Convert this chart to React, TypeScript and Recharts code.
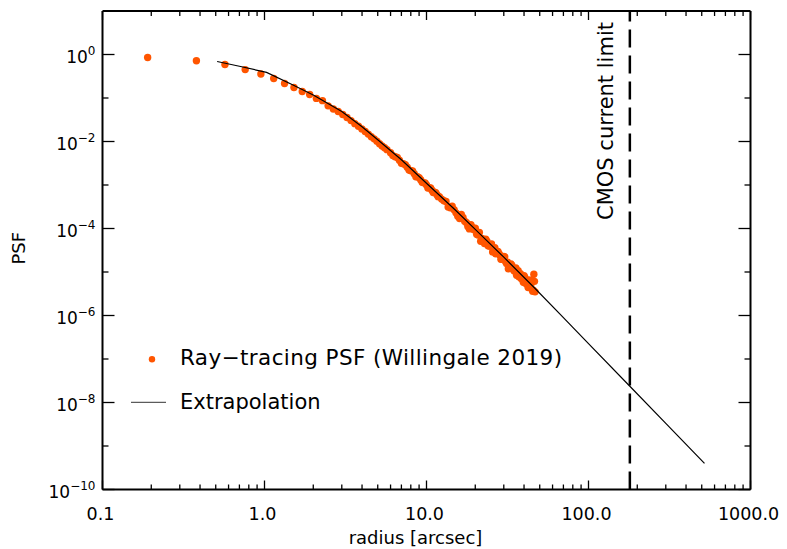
import React from "react";
import { ScatterChart, Scatter, XAxis, YAxis, ReferenceLine, Legend } from "recharts";

// ray-tracing PSF samples, radius in arcsec
const rayRadius = [
  0.19, 0.38, 0.57, 0.76, 0.95, 1.14, 1.33, 1.52, 1.71, 1.9, 2.09, 2.28, 2.47, 2.66, 2.85,
  3.04, 3.23, 3.42, 3.61, 3.8, 3.99, 4.18, 4.37, 4.56, 4.75, 4.94, 5.13, 5.32, 5.51, 5.7,
  6.0, 6.4, 6.8, 7.2, 7.6, 8.0, 8.4, 8.8, 9.2, 9.6, 10.0, 10.4, 10.8, 11.2, 11.6, 12.0,
  12.8, 13.6, 14.4, 15.2, 16.0, 16.8, 17.6, 18.4, 19.2, 20.0, 20.8, 21.6, 22.4, 23.2, 24.0,
  24.8, 25.6, 26.4, 27.2, 28.0, 28.8, 29.6, 30.4, 31.2, 32.0, 32.8, 33.6, 34.4, 35.2, 36.0,
  36.8, 37.6, 38.4, 39.2, 40.0, 40.8, 41.6, 42.4, 43.2, 44.0, 44.8, 45.6, 46.0, 46.4, 46.8,
];
const rayPsf = [
  0.85, 0.72, 0.59, 0.45, 0.355, 0.28, 0.215, 0.174, 0.141, 0.12, 0.098, 0.087, 0.066, 0.056, 0.049,
  0.0417, 0.0355, 0.0302, 0.0257, 0.0224, 0.0195, 0.017, 0.0148, 0.0129, 0.0115, 0.0102, 0.0089, 0.0079, 0.0072, 0.0065,
  0.0055, 0.00447, 0.00372, 0.00309, 0.00257, 0.00214, 0.00182, 0.00155, 0.00132, 0.00112, 0.001, 8.7e-4, 7.6e-4, 6.8e-4, 6.0e-4, 5.4e-4,
  4.35e-4, 3.14e-4, 3.24e-4, 2.29e-4, 1.69e-4, 1.79e-4, 1.38e-4, 9.8e-5, 1.06e-4, 1.02e-4, 7.05e-5, 5.1e-5, 5.6e-5, 5.7e-5, 4.0e-5,
  3.97e-5, 2.88e-5, 3.64e-5, 2.72e-5, 2.68e-5, 1.97e-5, 2.14e-5, 2.23e-5, 1.57e-5, 1.19e-5, 1.4e-5, 1.44e-5, 1.12e-5, 1.13e-5, 8.4e-6,
  1.07e-5, 8.2e-6, 7.1e-6, 7.7e-6, 8.2e-6, 5.5e-6, 5.8e-6, 4.4e-6, 5.8e-6, 4.8e-6, 6.5e-6, 3.8e-6, 8.9e-6, 6.1e-6, 3.5e-6,
];
// the in-between samples of the dense part
const rayRadiusFill = [
  6.2, 6.6, 7.0, 7.4, 7.8, 8.2, 8.6, 9.0, 9.4, 9.8, 10.2, 10.6, 11.0, 11.4, 11.8, 12.4,
  13.2, 14.0, 14.8, 15.6, 16.4, 17.2, 18.0, 18.8, 19.6, 20.4, 21.2, 22.0, 22.8, 23.6, 24.4,
  25.2, 26.0, 26.8, 27.6, 28.4, 29.2, 30.0, 30.8, 31.6, 32.4, 33.2, 34.0, 34.8, 35.6, 36.4,
  37.2, 38.0, 38.8, 39.6, 40.4, 41.2, 42.0, 42.8, 43.6, 44.4, 45.2,
];
const rayPsfFill = [
  4.74e-3, 4.28e-3, 3.16e-3, 2.92e-3, 2.22e-3, 2.09e-3, 1.55e-3, 1.48e-3, 1.16e-3, 1.12e-3, 8.5e-4, 8.6e-4, 6.7e-4, 6.65e-4, 5.4e-4, 4.74e-4,
  4.19e-4, 2.98e-4, 2.69e-4, 1.9e-4, 2.09e-4, 1.47e-4, 1.11e-4, 1.22e-4, 9.4e-5, 7.4e-5, 8.1e-5, 5.9e-5, 4.5e-5, 5.1e-5, 3.94e-5,
  4.4e-5, 3.27e-5, 2.61e-5, 2.96e-5, 2.43e-5, 1.96e-5, 2.29e-5, 1.73e-5, 1.68e-5, 1.28e-5, 1.53e-5, 1.22e-5, 1.05e-5, 1.24e-5, 9.7e-6,
  7.8e-6, 9.1e-6, 7.3e-6, 5.8e-6, 7.6e-6, 6.0e-6, 5.1e-6, 6.6e-6, 5.1e-6, 6.4e-6, 3.6e-6,
];

// extrapolation curve
const extrapRadius = [0.51, 0.7, 1.03, 1.5, 2, 3, 4, 5, 7, 10, 15, 20, 30, 46, 70, 100, 180, 300, 520];
const extrapPsf = [
  0.69, 0.537, 0.389, 0.1995, 0.1175, 0.049, 0.0219, 0.01096, 0.0038, 0.0011, 2.69e-4, 9.55e-5,
  2.19e-5, 4.47e-6, 8.9e-7, 2.26e-7, 2.36e-8, 3.3e-9, 3.98e-10,
];

const xMajorTicks = [0.1, 1, 10, 100, 1000];
const xMinorTicks = [
  0.2, 0.3, 0.4, 0.5, 0.6, 0.7, 0.8, 0.9, 2, 3, 4, 5, 6, 7, 8, 9,
  20, 30, 40, 50, 60, 70, 80, 90, 200, 300, 400, 500, 600, 700, 800, 900,
];
const yTicks = [1e-10, 1e-9, 1e-8, 1e-7, 1e-6, 1e-5, 1e-4, 1e-3, 1e-2, 1e-1, 1];
const cmosLimit = 180;

const ORANGE = "#ff5500";
const FONT = "DejaVu Sans";

const rayData = [
  ...rayRadius.map((r, i) => ({ r, psf: rayPsf[i] })),
  ...rayRadiusFill.map((r, i) => ({ r, psf: rayPsfFill[i] })),
];
const extrapData = extrapRadius.map((r, i) => ({ r, psf: extrapPsf[i] }));
const xTicks = [...xMajorTicks, ...xMinorTicks].sort((a, b) => a - b);

const isXMajor = (v: number) => xMajorTicks.some((m) => Math.abs(m - v) < 1e-9);
const expOf = (v: number) => Math.round(Math.log10(v));

const BottomTick = (props: any) => {
  const { x, y, payload } = props;
  const major = isXMajor(payload.value);
  return (
    <g>
      <line x1={x} x2={x} y1={y} y2={y - (major ? 9 : 5)} stroke="#000" strokeWidth={1.3} />
      {major && (
        <text x={x - 2} y={y + 30.5} textAnchor="middle" fontSize={17.5} fontFamily={FONT} fill="#000">
          {payload.value.toFixed(1)}
        </text>
      )}
    </g>
  );
};

const TopTick = (props: any) => {
  const { x, y, payload } = props;
  const major = isXMajor(payload.value);
  return <line x1={x} x2={x} y1={y} y2={y + (major ? 9 : 5)} stroke="#000" strokeWidth={1.3} />;
};

const LeftTick = (props: any) => {
  const { x, y, payload } = props;
  const e = expOf(payload.value);
  const major = e % 2 === 0;
  return (
    <g>
      <line x1={x} x2={x + (major ? 12 : 6)} y1={y} y2={y} stroke="#000" strokeWidth={1.3} />
      {major && (
        <text x={x - 7} y={y + 8} textAnchor="end" fontSize={17} fontFamily={FONT} fill="#000">
          10
          <tspan dy={-8} fontSize={12}>
            {e === 0 ? "0" : "\u2212" + Math.abs(e)}
          </tspan>
        </text>
      )}
    </g>
  );
};

const RightTick = (props: any) => {
  const { x, y, payload } = props;
  const major = expOf(payload.value) % 2 === 0;
  return <line x1={x} x2={x - (major ? 12 : 6)} y1={y} y2={y} stroke="#000" strokeWidth={1.3} />;
};

const LegendBox = () => (
  <svg width={620} height={90} style={{ display: "block", overflow: "visible" }}>
    <circle cx={152} cy={29.3} r={3.2} fill={ORANGE} />
    <text x={180} y={35} fontSize={21.5} letterSpacing={0.4} fontFamily={FONT} fill="#000">
      Ray{"\u2212"}tracing PSF (Willingale 2019)
    </text>
    <line x1={131} x2={166} y1={72.3} y2={72.3} stroke="#333" strokeWidth={1} />
    <text x={180} y={79} fontSize={21} fontFamily={FONT} fill="#000">
      Extrapolation
    </text>
  </svg>
);

const axisLine = { stroke: "#000", strokeWidth: 2 };

export default function App() {
  return (
    <div style={{ position: "absolute", left: 0, top: 0, background: "#fff" }}>
      <ScatterChart width={787} height={549} margin={{ top: 10, right: 35.5, bottom: 0, left: 0 }}>
        <XAxis
          xAxisId={0}
          dataKey="r"
          type="number"
          scale="log"
          domain={[0.1, 1000]}
          allowDataOverflow
          ticks={xTicks}
          interval={0}
          tick={<BottomTick />}
          tickLine={false}
          tickSize={0}
          tickMargin={0}
          height={59.5}
          axisLine={axisLine}
          label={(p: any) => (
            <text
              x={p.viewBox.x + p.viewBox.width / 2 - 11}
              y={p.viewBox.y + 54}
              textAnchor="middle"
              fontSize={18}
              fontFamily={FONT}
              fill="#000"
            >
              radius [arcsec]
            </text>
          )}
        />
        <XAxis
          xAxisId="top"
          orientation="top"
          dataKey="r"
          type="number"
          scale="log"
          domain={[0.1, 1000]}
          allowDataOverflow
          ticks={xTicks}
          interval={0}
          tick={<TopTick />}
          tickLine={false}
          tickSize={0}
          tickMargin={0}
          height={1}
          axisLine={axisLine}
        />
        <YAxis
          yAxisId={0}
          dataKey="psf"
          type="number"
          scale="log"
          domain={[1e-10, 10]}
          allowDataOverflow
          ticks={yTicks}
          interval={0}
          tick={<LeftTick />}
          tickLine={false}
          tickSize={0}
          tickMargin={0}
          width={102.5}
          axisLine={axisLine}
          label={(p: any) => {
            const cx = 25;
            const cy = p.viewBox.y + p.viewBox.height / 2 - 2;
            return (
              <text
                x={cx}
                y={cy}
                transform={`rotate(-90, ${cx}, ${cy})`}
                textAnchor="middle"
                fontSize={18}
                fontFamily={FONT}
                fill="#000"
              >
                PSF
              </text>
            );
          }}
        />
        <YAxis
          yAxisId="right"
          orientation="right"
          dataKey="psf"
          type="number"
          scale="log"
          domain={[1e-10, 10]}
          allowDataOverflow
          ticks={yTicks}
          interval={0}
          tick={<RightTick />}
          tickLine={false}
          tickSize={0}
          tickMargin={0}
          width={1}
          axisLine={axisLine}
        />
        <ReferenceLine
          x={cmosLimit}
          stroke="#000"
          strokeWidth={2.5}
          strokeDasharray="18 8"
          label={(p: any) => {
            const bx = p.viewBox.x - 17;
            const by = p.viewBox.y + 110;
            return (
              <text
                x={bx}
                y={by}
                transform={`rotate(-90, ${bx}, ${by})`}
                textAnchor="middle"
                fontSize={21}
                fontFamily={FONT}
                fill="#000"
              >
                CMOS current limit
              </text>
            );
          }}
        />
        <Scatter
          name="Ray-tracing PSF (Willingale 2019)"
          data={rayData}
          fill={ORANGE}
          isAnimationActive={false}
          shape={(p: any) => <circle cx={p.cx} cy={p.cy} r={3.7} fill={ORANGE} />}
        />
        <Scatter
          name="Extrapolation"
          data={extrapData}
          line={{ stroke: "#000", strokeWidth: 1.2 }}
          lineType="joint"
          isAnimationActive={false}
          shape={() => <g />}
        />
        {/* invisible series so the top and right frame axes get drawn */}
        <Scatter
          xAxisId="top"
          yAxisId="right"
          data={extrapData}
          legendType="none"
          isAnimationActive={false}
          shape={() => <g />}
        />
        <Legend
          layout="vertical"
          align="center"
          verticalAlign="middle"
          wrapperStyle={{ left: 0, top: 330, width: 620, height: 90 }}
          content={() => <LegendBox />}
        />
      </ScatterChart>
    </div>
  );
}
